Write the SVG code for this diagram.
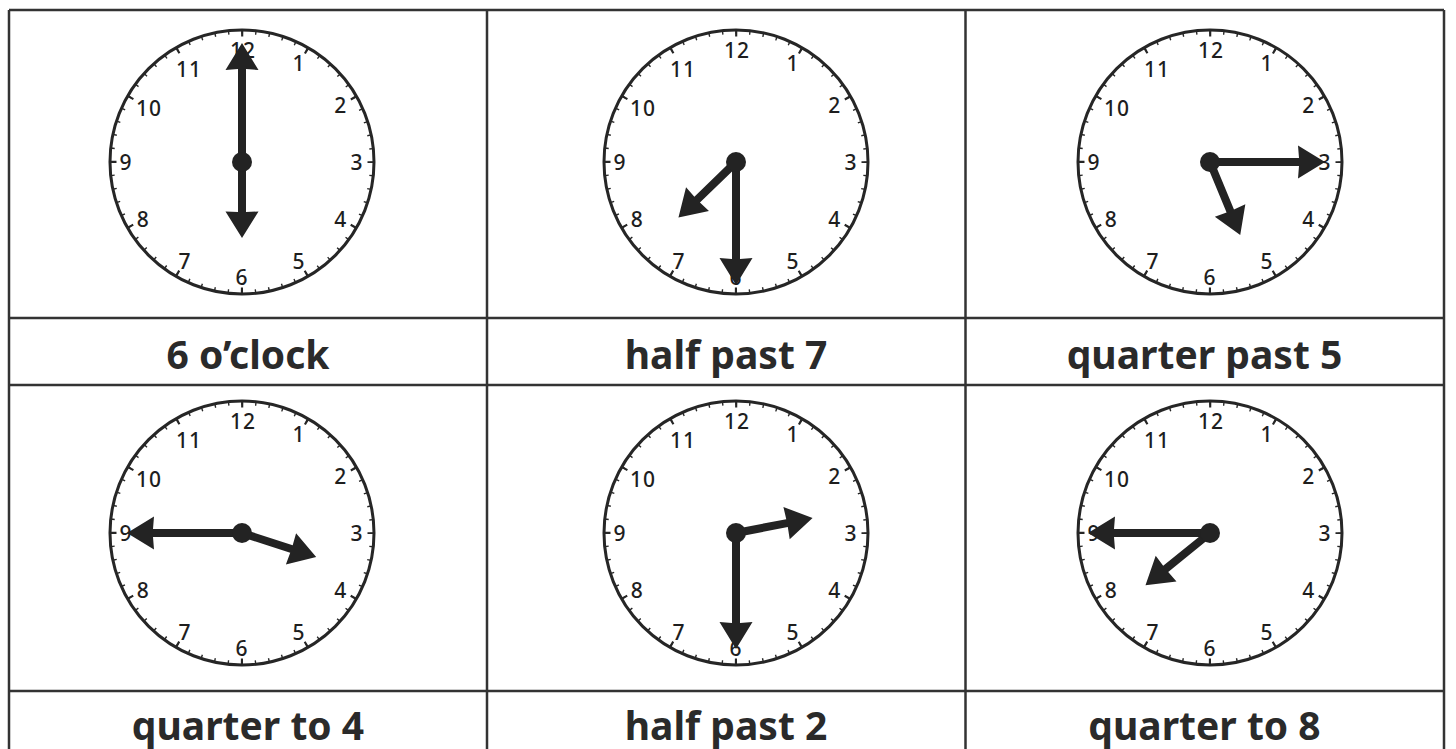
<svg xmlns="http://www.w3.org/2000/svg" xmlns:xlink="http://www.w3.org/1999/xlink" width="1456" height="749" viewBox="0 0 1456 749">
<style>
.grid{stroke:#333;stroke-width:2.5;fill:none}
.rim{fill:#fff;stroke:#262626;stroke-width:3}
.mt{fill:none;stroke:#262626;stroke-width:4;stroke-dasharray:1.4 12.214;stroke-dashoffset:0.7}
.ht{fill:none;stroke:#262626;stroke-width:7;stroke-dasharray:2.2 65.34;stroke-dashoffset:1.1}
.num{font-family:"Noto Sans","Open Sans",sans-serif;font-size:21px;font-weight:500;letter-spacing:1px;fill:#1e1e1e;text-anchor:middle;dominant-baseline:central}
.hand{fill:#232323}
.lbl{font-family:"Noto Sans","Open Sans",sans-serif;font-weight:700;font-size:39px;fill:#2a2a2a;text-anchor:middle}
</style>
<rect width="1456" height="749" fill="#fff"/>
<g id="connectors">
<g class="grid">
<line x1="9" y1="10" x2="1444" y2="10"/>
<line x1="9" y1="318" x2="1444" y2="318"/>
<line x1="9" y1="385" x2="1444" y2="385"/>
<line x1="9" y1="691" x2="1444" y2="691"/>
<line x1="9" y1="10" x2="9" y2="749"/>
<line x1="487" y1="10" x2="487" y2="749"/>
<line x1="965.5" y1="10" x2="965.5" y2="749"/>
<line x1="1444" y1="10" x2="1444" y2="749"/>
</g>
</g>
<g id="clock1" transform="translate(242,162)">
<circle class="rim" r="132"/><circle class="mt" r="130"/><circle class="ht" r="129"/>
<text class="num" x="57" y="-98.7">1</text><text class="num" x="98.7" y="-57">2</text><text class="num" x="115" y="0">3</text><text class="num" x="98.7" y="57">4</text><text class="num" x="57" y="98.7">5</text><text class="num" x="0" y="115">6</text><text class="num" x="-57" y="98.7">7</text><text class="num" x="-98.7" y="57">8</text><text class="num" x="-116" y="0">9</text><text class="num" x="-93" y="-54">10</text><text class="num" x="-53" y="-93.5">11</text><text class="num" x="1" y="-112">12</text>
<path class="hand" transform="rotate(0)" d="M-4,0V-93L-16.5,-92L0,-119L16.5,-92L4,-93V0Z"/>
<path class="hand" transform="rotate(180)" d="M-4,0V-50L-16.5,-49.5L0,-76L16.5,-49.5L4,-50V0Z"/>
<circle class="hand" r="10"/>
</g>
<g id="clock2" transform="translate(736,162)">
<circle class="rim" r="132"/><circle class="mt" r="130"/><circle class="ht" r="129"/>
<text class="num" x="57" y="-98.7">1</text><text class="num" x="98.7" y="-57">2</text><text class="num" x="115" y="0">3</text><text class="num" x="98.7" y="57">4</text><text class="num" x="57" y="98.7">5</text><text class="num" x="0" y="115">6</text><text class="num" x="-57" y="98.7">7</text><text class="num" x="-98.7" y="57">8</text><text class="num" x="-116" y="0">9</text><text class="num" x="-93" y="-54">10</text><text class="num" x="-53" y="-93.5">11</text><text class="num" x="1" y="-112">12</text>
<path class="hand" transform="rotate(180)" d="M-4,0V-97L-16.5,-96L0,-123L16.5,-96L4,-97V0Z"/>
<path class="hand" transform="rotate(226)" d="M-4,0V-54L-16.5,-53.5L0,-80L16.5,-53.5L4,-54V0Z"/>
<circle class="hand" r="10"/>
</g>
<g id="clock3" transform="translate(1210,162)">
<circle class="rim" r="132"/><circle class="mt" r="130"/><circle class="ht" r="129"/>
<text class="num" x="57" y="-98.7">1</text><text class="num" x="98.7" y="-57">2</text><text class="num" x="115" y="0">3</text><text class="num" x="98.7" y="57">4</text><text class="num" x="57" y="98.7">5</text><text class="num" x="0" y="115">6</text><text class="num" x="-57" y="98.7">7</text><text class="num" x="-98.7" y="57">8</text><text class="num" x="-116" y="0">9</text><text class="num" x="-93" y="-54">10</text><text class="num" x="-53" y="-93.5">11</text><text class="num" x="1" y="-112">12</text>
<path class="hand" transform="rotate(90)" d="M-4,0V-89L-16.5,-88L0,-115L16.5,-88L4,-89V0Z"/>
<path class="hand" transform="rotate(157.5)" d="M-4,0V-53L-16.5,-52.5L0,-79L16.5,-52.5L4,-53V0Z"/>
<circle class="hand" r="10"/>
</g>
<g id="clock4" transform="translate(242,533)">
<circle class="rim" r="132"/><circle class="mt" r="130"/><circle class="ht" r="129"/>
<text class="num" x="57" y="-98.7">1</text><text class="num" x="98.7" y="-57">2</text><text class="num" x="115" y="0">3</text><text class="num" x="98.7" y="57">4</text><text class="num" x="57" y="98.7">5</text><text class="num" x="0" y="115">6</text><text class="num" x="-57" y="98.7">7</text><text class="num" x="-98.7" y="57">8</text><text class="num" x="-116" y="0">9</text><text class="num" x="-93" y="-54">10</text><text class="num" x="-53" y="-93.5">11</text><text class="num" x="1" y="-112">12</text>
<path class="hand" transform="rotate(270)" d="M-4,0V-89L-16.5,-88L0,-115L16.5,-88L4,-89V0Z"/>
<path class="hand" transform="rotate(108)" d="M-4,0V-52L-16.5,-51.5L0,-78L16.5,-51.5L4,-52V0Z"/>
<circle class="hand" r="10"/>
</g>
<g id="clock5" transform="translate(736,533)">
<circle class="rim" r="132"/><circle class="mt" r="130"/><circle class="ht" r="129"/>
<text class="num" x="57" y="-98.7">1</text><text class="num" x="98.7" y="-57">2</text><text class="num" x="115" y="0">3</text><text class="num" x="98.7" y="57">4</text><text class="num" x="57" y="98.7">5</text><text class="num" x="0" y="115">6</text><text class="num" x="-57" y="98.7">7</text><text class="num" x="-98.7" y="57">8</text><text class="num" x="-116" y="0">9</text><text class="num" x="-93" y="-54">10</text><text class="num" x="-53" y="-93.5">11</text><text class="num" x="1" y="-112">12</text>
<path class="hand" transform="rotate(180)" d="M-4,0V-90L-16.5,-89L0,-116L16.5,-89L4,-90V0Z"/>
<path class="hand" transform="rotate(79)" d="M-4,0V-52L-16.5,-51.5L0,-78L16.5,-51.5L4,-52V0Z"/>
<circle class="hand" r="10"/>
</g>
<g id="clock6" transform="translate(1210,533)">
<circle class="rim" r="132"/><circle class="mt" r="130"/><circle class="ht" r="129"/>
<text class="num" x="57" y="-98.7">1</text><text class="num" x="98.7" y="-57">2</text><text class="num" x="115" y="0">3</text><text class="num" x="98.7" y="57">4</text><text class="num" x="57" y="98.7">5</text><text class="num" x="0" y="115">6</text><text class="num" x="-57" y="98.7">7</text><text class="num" x="-98.7" y="57">8</text><text class="num" x="-116" y="0">9</text><text class="num" x="-93" y="-54">10</text><text class="num" x="-53" y="-93.5">11</text><text class="num" x="1" y="-112">12</text>
<path class="hand" transform="rotate(270)" d="M-4,0V-96L-16.5,-95L0,-122L16.5,-95L4,-96V0Z"/>
<path class="hand" transform="rotate(231)" d="M-4,0V-57L-16.5,-56.5L0,-83L16.5,-56.5L4,-57V0Z"/>
<circle class="hand" r="10"/>
</g>
<g id="label1"><text class="lbl" x="248" y="369">6 o’clock</text></g>
<g id="label2"><text class="lbl" x="726" y="369">half past 7</text></g>
<g id="label3"><text class="lbl" x="1204.5" y="369">quarter past 5</text></g>
<g id="label4"><text class="lbl" x="248" y="740">quarter to 4</text></g>
<g id="label5"><text class="lbl" x="726" y="740">half past 2</text></g>
<g id="label6"><text class="lbl" x="1204.5" y="740">quarter to 8</text></g>
</svg>
